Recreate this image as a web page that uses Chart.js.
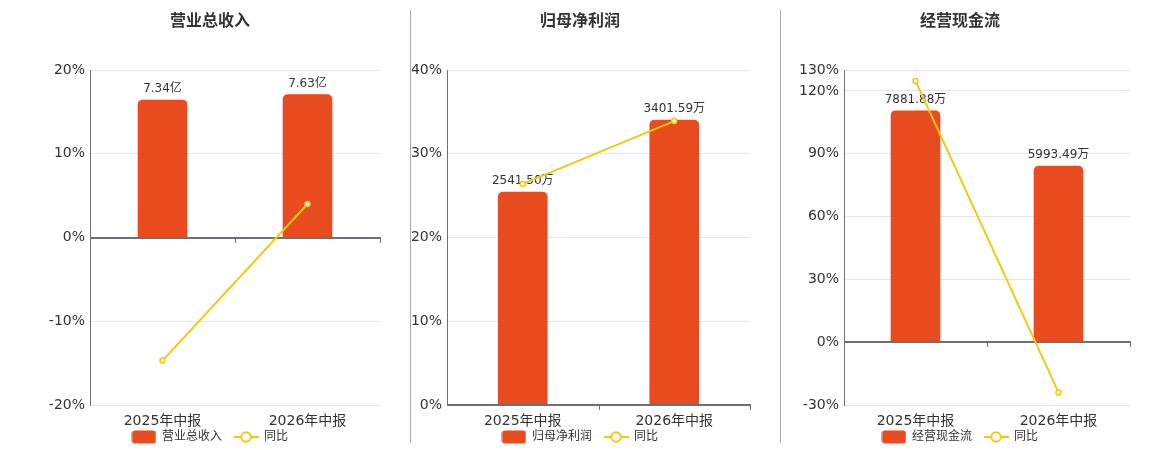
<!DOCTYPE html>
<html><head><meta charset="utf-8">
<script src="https://cdn.jsdelivr.net/npm/chart.js@4.4.1/dist/chart.umd.min.js"></script>
<style>
html,body{margin:0;padding:0;background:#fff;width:1160px;height:450px;overflow:hidden;position:relative;}
.box{position:absolute;top:0;}
.sep{position:absolute;top:10px;height:433px;width:1px;background:#aaaaaa;}
</style></head><body>
<div class="box" style="left:40px"><canvas id="c1" width="342" height="453"></canvas></div>
<div class="box" style="left:410px"><canvas id="c2" width="342" height="453"></canvas></div>
<div class="box" style="left:790px"><canvas id="c3" width="342" height="453"></canvas></div>
<div class="sep" style="left:410px"></div>
<div class="sep" style="left:780px"></div>
<script>
const categories = ['2025年中报', '2026年中报'];
const revenueValues = [7.34, 7.63];       // 亿
const revenueYoY = [-14.7, 4.0];
const profitValues = [2541.50, 3401.59];  // 万
const profitYoY = [26.4, 33.9];
const cashValues = [7881.88, 5993.49];    // 万
const cashYoY = [124.8, -24.0];
const revenueTicks = [-20, -10, 0, 10, 20];
const profitTicks = [0, 10, 20, 30, 40];
const cashTicks = [-30, 0, 30, 60, 90, 120, 130];

const BAR = '#E84B1D';
const LINE = '#F2C811';
const AXIS = '#6E7079';
const FONT = "'DejaVu Sans', 'Noto Sans CJK SC', sans-serif";
Chart.defaults.font.family = FONT;

function barIcon(){
  const c = document.createElement('canvas'); c.width = 25; c.height = 14;
  const g = c.getContext('2d'); g.fillStyle = BAR;
  g.beginPath(); g.roundRect(0.5, 0.5, 24, 13, 3); g.fill(); return c;
}
function lineIcon(){
  const c = document.createElement('canvas'); c.width = 25; c.height = 14;
  const g = c.getContext('2d'); g.strokeStyle = LINE; g.lineWidth = 2;
  g.beginPath(); g.moveTo(0, 7); g.lineTo(25, 7); g.stroke();
  g.beginPath(); g.arc(12.5, 7, 4.8, 0, Math.PI * 2); g.fillStyle = '#fff'; g.fill(); g.stroke();
  return c;
}
const BI = barIcon(), LI = lineIcon();

function makeChart(id, cfg){
  const overlay = {
    id: 'overlay_' + id,
    afterDatasetDraw(chart, args){
      if (args.index !== 0) return;
      const ctx = chart.ctx, x = chart.scales.x, y = chart.scales.y, area = chart.chartArea;
      ctx.save();
      const y0 = Math.round(y.getPixelForValue(0));
      ctx.strokeStyle = AXIS; ctx.lineWidth = 2;
      ctx.beginPath(); ctx.moveTo(area.left, y0); ctx.lineTo(area.right + 1, y0); ctx.stroke();
      ctx.lineWidth = 1;
      const n = chart.data.labels.length, w = (x.right - x.left) / n;
      for (let i = 1; i <= n; i++){
        const px = Math.round(x.left + i * w) + 0.5;
        ctx.beginPath(); ctx.moveTo(px, y0); ctx.lineTo(px, y0 + 5); ctx.stroke();
      }
      ctx.font = '12px ' + FONT; ctx.fillStyle = '#333'; ctx.textAlign = 'center'; ctx.textBaseline = 'bottom';
      args.meta.data.forEach((el, i) => {
        const v = chart.data.datasets[0].data[i];
        ctx.fillText(v.toFixed(2) + cfg.unit, el.x, el.y - 5);
      });
      ctx.restore();
    }
  };
  return new Chart(document.getElementById(id), {
    type: 'bar',
    data: {
      labels: categories,
      datasets: [
        { type: 'bar', label: cfg.barName, data: cfg.values, yAxisID: 'y1', order: 1,
          backgroundColor: BAR, barThickness: 49,
          borderRadius: {topLeft: 5, topRight: 5, bottomLeft: 0, bottomRight: 0}, borderSkipped: 'start' },
        { type: 'line', label: '同比', data: cfg.yoy, yAxisID: 'y', order: 0,
          borderColor: LINE, borderWidth: 2, tension: 0,
          pointRadius: 2.5, pointBorderWidth: 1.5, pointBackgroundColor: '#fff', pointBorderColor: LINE }
      ]
    },
    options: {
      responsive: false, animation: false, devicePixelRatio: 1,
      layout: { autoPadding: false, padding: { left: 0, right: 2, top: 0, bottom: 0 } },
      scales: {
        x: {
          ticks: { color: '#333', font: { size: 14 }, padding: 8, maxRotation: 0, autoSkip: false },
          grid: { display: false, drawTicks: false }, border: { display: false },
          afterFit: s => { s.height = 14; s.paddingLeft = 0; s.paddingRight = 0; s._computeLabelArea = () => undefined; }
        },
        y: {
          position: 'left', min: cfg.ticks[0], max: cfg.ticks[cfg.ticks.length - 1],
          afterBuildTicks: s => { s.ticks = cfg.ticks.map(v => ({ value: v })); },
          afterFit: s => { s.width = cfg.axisWidth; },
          ticks: { color: '#333', font: { size: 14 }, padding: 5, callback: v => v + '%' },
          grid: { color: '#E0E6F1', drawTicks: false },
          border: { display: true, color: AXIS, width: 1 }
        },
        y1: { display: false, min: cfg.barMin, max: cfg.barMax }
      },
      plugins: {
        tooltip: { enabled: false },
        title: { display: true, text: cfg.title, color: '#333',
          font: { size: 16, weight: 'bold', lineHeight: 1.2 }, padding: { top: 12, bottom: 38.8 } },
        legend: {
          position: 'bottom',
          labels: {
            usePointStyle: true, pointStyleWidth: 24, boxHeight: 13, padding: 12,
            color: '#333', font: { size: 12 },
            sort: (a, b) => a.datasetIndex - b.datasetIndex,
            generateLabels(chart){
              const items = Chart.defaults.plugins.legend.labels.generateLabels(chart);
              items.forEach(it => { it.pointStyle = it.datasetIndex === 0 ? BI : LI; it.fontColor = '#333'; });
              return items;
            }
          }
        }
      }
    },
    plugins: [overlay]
  });
}

makeChart('c1', { title: '营业总收入', barName: '营业总收入', values: revenueValues, yoy: revenueYoY,
  ticks: revenueTicks, unit: '亿', barMin: -8.94, barMax: 8.94, axisWidth: 50 });
makeChart('c2', { title: '归母净利润', barName: '归母净利润', values: profitValues, yoy: profitYoY,
  ticks: profitTicks, unit: '万', barMin: 0, barMax: 4000, axisWidth: 37 });
makeChart('c3', { title: '经营现金流', barName: '经营现金流', values: cashValues, yoy: cashYoY,
  ticks: cashTicks, unit: '万', barMin: -2139, barMax: 9269, axisWidth: 54 });
</script>
</body></html>
